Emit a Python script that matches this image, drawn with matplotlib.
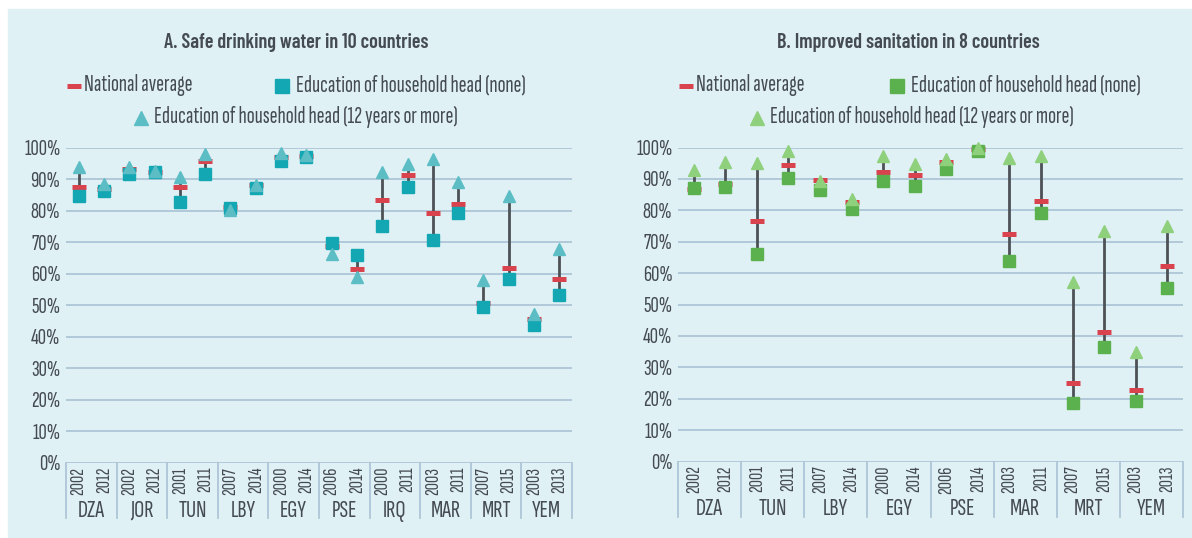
import numpy as np
import matplotlib.pyplot as plt
from matplotlib.patches import Rectangle

# ---- data ----
water_countries = ['DZA', 'JOR', 'TUN', 'LBY', 'EGY', 'PSE', 'IRQ', 'MAR', 'MRT', 'YEM']
water_years = ['2002', '2012', '2002', '2012', '2001', '2011', '2007', '2014', '2000', '2014',
               '2006', '2014', '2000', '2011', '2003', '2011', '2007', '2015', '2003', '2013']
water_national = [87.6, 87.0, 93.1, 92.3, 87.6, 95.6, 81.2, 88.1, 97.1, 97.3,
                  68.9, 61.4, 83.3, 91.4, 79.1, 82.2, 50.7, 61.9, 45.5, 58.2]
water_none = [84.7, 86.2, 91.7, 92.1, 82.6, 91.7, 80.8, 87.3, 95.7, 97.1,
              69.6, 65.9, 75.0, 87.4, 70.8, 79.3, 49.4, 58.4, 43.7, 53.2]
water_12plus = [93.9, 88.3, 93.7, 92.7, 90.6, 98.0, 80.3, 88.1, 98.2, 97.6,
                66.2, 59.1, 92.1, 94.9, 96.5, 89.0, 57.9, 84.7, 47.3, 67.7]

san_countries = ['DZA', 'TUN', 'LBY', 'EGY', 'PSE', 'MAR', 'MRT', 'YEM']
san_years = ['2002', '2012', '2001', '2011', '2007', '2014', '2000', '2014',
             '2006', '2014', '2003', '2011', '2007', '2015', '2003', '2013']
san_national = [86.8, 88.5, 76.7, 94.5, 89.6, 82.7, 92.2, 91.2,
                95.4, 99.5, 72.4, 83.1, 24.9, 41.1, 22.8, 62.2]
san_none = [87.0, 87.3, 66.1, 90.4, 86.5, 80.4, 89.4, 87.8,
            93.2, 99.0, 64.0, 79.1, 18.7, 36.5, 19.3, 55.4]
san_12plus = [92.9, 95.5, 95.0, 98.8, 89.2, 83.7, 97.3, 94.7,
              96.3, 99.9, 96.7, 97.3, 57.3, 73.5, 34.8, 75.1]

# ---- styling ----
BG = '#e0f1f6'
GRID = '#a8c2d2'
TXT = '#454b53'
LINE = '#4d5156'
RED = '#d9434e'
W, H = 1192, 538

plt.rcParams['font.family'] = ['Sofia Sans Extra Condensed', 'DejaVu Sans']
TITLE_FONT = ['Barlow Condensed', 'DejaVu Sans']

fig = plt.figure(figsize=(W / 100, H / 100), dpi=100)
fig.patches.append(Rectangle((8 / W, 0), 1 - 8 / W, (H - 9) / H,
                             transform=fig.transFigure, color=BG, zorder=-10))


def px_axes(x0, x1, y0, y1):
    # pixel box (top-left origin) -> figure fractions
    return fig.add_axes([x0 / W, (H - y0) / H, (x1 - x0) / W, (y0 - y1) / H])


def draw_panel(ax, countries, years, national, none, plus, sq_col, tri_col, px_per_pct):
    n = len(years)
    x = np.arange(n) + 0.5
    ax.set_facecolor('none')
    ax.set_xlim(0, n)
    ax.set_ylim(0, 100)
    for s in ax.spines.values():
        s.set_visible(False)
    ax.set_xticks([])
    ax.set_yticks(range(0, 101, 10))
    ax.set_yticklabels([f'{v}%' for v in range(0, 101, 10)], fontsize=16.5, color=TXT)
    ax.tick_params(axis='y', length=0, pad=4)
    for v in range(0, 101, 10):
        ax.axhline(v, color=GRID, lw=1.2, zorder=0)

    lo = np.minimum(np.minimum(national, none), plus)
    hi = np.maximum(np.maximum(national, none), plus)
    ax.vlines(x, lo, hi, color=LINE, lw=2.0, zorder=2)
    ax.plot(x, national, ls='none', marker='_', ms=10, mew=3.6, color=RED, zorder=3, clip_on=False)
    ax.plot(x, none, ls='none', marker='s', ms=9.2, color=sq_col, zorder=4, clip_on=False)
    ax.plot(x, plus, ls='none', marker='^', ms=8.6, color=tri_col, zorder=5, clip_on=False)

    # table under the axis
    bottom = -(518 - 463) / px_per_pct
    for k in range(len(countries) + 1):
        ax.plot([2 * k, 2 * k], [0, bottom], color=GRID, lw=1.2, clip_on=False)
    for i, yr in enumerate(years):
        ax.text(x[i], -1.2, yr, rotation=90, ha='center', va='top', fontsize=14.5,
                color=TXT, clip_on=False)
    for k, c in enumerate(countries):
        ax.text(2 * k + 1, -15.2, c, ha='center', va='center', fontsize=18,
                color=TXT, clip_on=False)


def legend(x_dash, x_sq, x_tri, sq_col, tri_col):
    fig.lines.append(plt.Line2D([x_dash / W], [(H - 86) / H], marker='_', ms=10, mew=3.6,
                                color=RED, transform=fig.transFigure))
    fig.text((x_dash + 10) / W, (H - 85) / H, 'National average', fontsize=17,
             color=TXT, va='center')
    fig.lines.append(plt.Line2D([x_sq / W], [(H - 86) / H], marker='s', ms=10,
                                color=sq_col, ls='none', transform=fig.transFigure))
    fig.text((x_sq + 14) / W, (H - 85) / H, 'Education of household head (none)',
             fontsize=17, color=TXT, va='center')
    fig.lines.append(plt.Line2D([x_tri / W], [(H - 118) / H], marker='^', ms=10,
                                color=tri_col, ls='none', transform=fig.transFigure))
    fig.text((x_tri + 13) / W, (H - 117) / H, 'Education of household head (12 years or more)',
             fontsize=17, color=TXT, va='center')


ax1 = px_axes(66, 572, 463, 147.5)
draw_panel(ax1, water_countries, water_years, water_national, water_none, water_12plus,
           '#13a7b3', '#5cbdc5', 3.155)
ax2 = px_axes(678, 1183, 461.5, 147.5)
draw_panel(ax2, san_countries, san_years, san_national, san_none, san_12plus,
           '#5bb14d', '#8fd07d', 3.14)

fig.text(296 / W, (H - 43) / H, 'A. Safe drinking water in 10 countries', fontsize=14.5,
         family=TITLE_FONT, fontweight='semibold', color=TXT, ha='center', va='center')
fig.text(908 / W, (H - 43) / H, 'B. Improved sanitation in 8 countries', fontsize=14.5,
         family=TITLE_FONT, fontweight='semibold', color=TXT, ha='center', va='center')
legend(74, 282, 141, '#13a7b3', '#5cbdc5')
legend(686, 897, 757, '#5bb14d', '#8fd07d')

fig.savefig('out.png', dpi=100)
